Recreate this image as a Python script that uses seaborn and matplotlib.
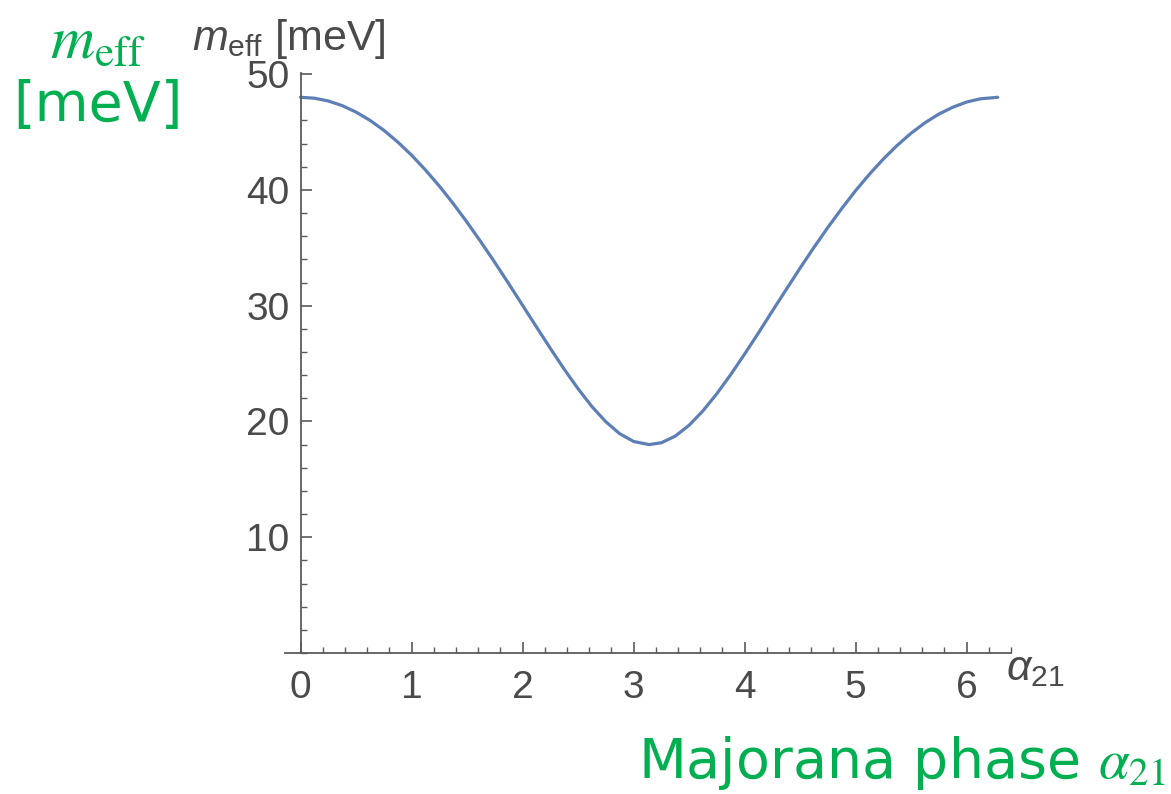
import matplotlib
matplotlib.use("Agg")
import matplotlib.pyplot as plt
from matplotlib.ticker import MultipleLocator
import pandas as pd
import seaborn as sns

# Effective Majorana mass versus the Majorana phase alpha_21
alpha21 = [0.0, 0.125, 0.25, 0.375, 0.5, 0.625, 0.75, 0.875, 1.0, 1.125, 1.25, 1.375,
           1.5, 1.625, 1.75, 1.875, 2.0, 2.125, 2.25, 2.375, 2.5, 2.625, 2.75, 2.875,
           3.0, 3.14, 3.25, 3.375, 3.5, 3.625, 3.75, 3.875, 4.0, 4.125, 4.25, 4.375,
           4.5, 4.625, 4.75, 4.875, 5.0, 5.125, 5.25, 5.375, 5.5, 5.625, 5.75, 5.875,
           6.0, 6.125, 6.28]
m_eff = [48.0, 47.92, 47.68, 47.28, 46.72, 46.01, 45.15, 44.14, 43.0, 41.72, 40.33, 38.82,
         37.2, 35.5, 33.73, 31.9, 30.03, 28.16, 26.31, 24.51, 22.82, 21.28, 19.97, 18.94,
         18.27, 18.0, 18.16, 18.73, 19.67, 20.92, 22.4, 24.05, 25.82, 27.65, 29.54, 31.4,
         33.25, 35.04, 36.76, 38.39, 39.94, 41.36, 42.67, 43.85, 44.9, 45.8, 46.55, 47.14,
         47.59, 47.87, 48.0]
x_ticks = [0, 1, 2, 3, 4, 5, 6]
y_ticks = [10, 20, 30, 40, 50]

df = pd.DataFrame({"alpha21": alpha21, "m_eff": m_eff})

sns.set_style("white")
plt.rcParams["font.family"] = ["Liberation Sans", "DejaVu Sans"]
plt.rcParams["mathtext.fontset"] = "custom"
plt.rcParams["mathtext.rm"] = "Liberation Sans"
plt.rcParams["mathtext.it"] = "Liberation Sans:italic"

AXIS_GREY = "#5a5a5a"
TEXT_GREY = "#4a4a4a"
GREEN = "#00b050"
LINE = "#5e7fb5"

fig = plt.figure(figsize=(11.71, 7.94), dpi=100)
ax = fig.add_axes([0.2434, 0.1776, 0.62, 0.7305])

sns.lineplot(data=df, x="alpha21", y="m_eff", ax=ax, color=LINE, linewidth=2.3,
             sort=False, legend=False)

ax.set_xlim(-0.14, 6.4)
ax.set_ylim(0, 50.1)
ax.set_xlabel("")
ax.set_ylabel("")

for side in ("top", "right"):
    ax.spines[side].set_visible(False)
ax.spines["left"].set_position(("data", 0))
ax.spines["bottom"].set_position(("data", 0))
for side in ("left", "bottom"):
    ax.spines[side].set_color(AXIS_GREY)
    ax.spines[side].set_linewidth(1.3)

ax.set_xticks(x_ticks)
ax.set_yticks(y_ticks)
ax.xaxis.set_minor_locator(MultipleLocator(0.2))
ax.yaxis.set_minor_locator(MultipleLocator(2))
ax.tick_params(axis="both", which="both", bottom=True, left=True, top=False, right=False)
ax.tick_params(axis="both", which="major", direction="in", length=8, width=1.2,
               color=AXIS_GREY, labelsize=28, labelcolor=TEXT_GREY)
ax.tick_params(axis="both", which="minor", direction="in", length=4.5, width=1.0,
               color=AXIS_GREY)
ax.tick_params(axis="x", which="major", pad=12)
ax.tick_params(axis="y", which="major", pad=8)
ax.grid(False)

# Axis captions in the plot's own grey
fig.text(192 / 1171, 1 - 50 / 794, r"$m_{\mathrm{eff}}$ [meV]", fontsize=31,
         color=TEXT_GREY, ha="left", va="baseline")
fig.text(1006 / 1171, 1 - 680 / 794, r"$\alpha_{21}$", fontsize=31,
         color=TEXT_GREY, ha="left", va="baseline")

# Green annotations
fig.text(98 / 1171, 1 - 58 / 794, r"$m_{\mathrm{eff}}$", fontsize=44, color=GREEN,
         ha="center", va="baseline", math_fontfamily="stix")
fig.text(98 / 1171, 1 - 121 / 794, "[meV]", fontsize=40, color=GREEN,
         ha="center", va="baseline", family=["DejaVu Sans"])
fig.text(1165 / 1171, 1 - 778 / 794, r"Majorana phase $\alpha_{21}$", fontsize=40,
         color=GREEN, ha="right", va="baseline", family=["DejaVu Sans"],
         math_fontfamily="stix")

fig.savefig("out.png", dpi=100)
